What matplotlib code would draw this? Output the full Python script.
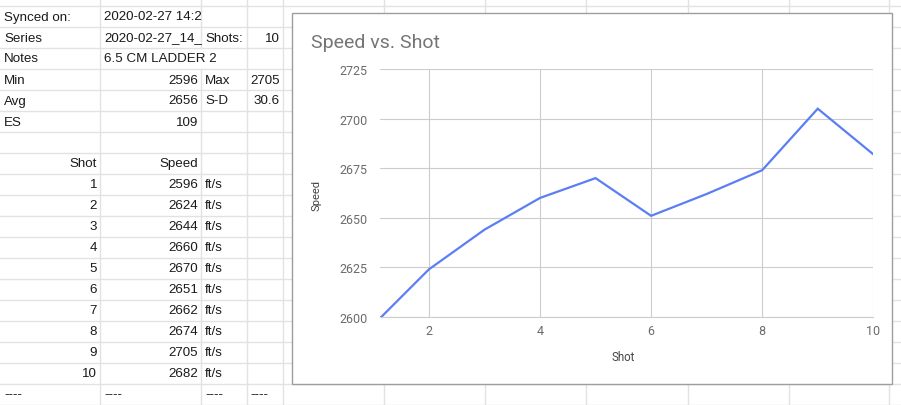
import matplotlib.pyplot as plt
from matplotlib.patches import Rectangle

# chart data
shots = [1, 2, 3, 4, 5, 6, 7, 8, 9, 10]
speeds = [2596, 2624, 2644, 2660, 2670, 2651, 2662, 2674, 2705, 2682]

# header block of the sheet (cut off at the cell edge, as in the sheet)
header_labels = ["Synced on:", "Series", "Notes", "Min", "Avg", "ES"]
header_values = ["2020-02-27 14:2", "2020-02-27_14_", "6.5 CM LADDER 2", "2596", "2656", "109"]
side_labels = ["", "Shots:", "", "Max", "S-D", ""]
side_values = ["", "10", "", "2705", "30.6", ""]

y_ticks = [2600, 2625, 2650, 2675, 2700, 2725]
x_ticks = [2, 4, 6, 8, 10]

W, H = 901, 406
fig = plt.figure(figsize=(W / 100, H / 100), dpi=100)

# sheet grid
sheet = fig.add_axes([0, 0, 1, 1])
sheet.set_xlim(0, W)
sheet.set_ylim(H, 0)
sheet.axis("off")

grid_col = "#e2e2e2"
col_edges = [100, 201, 246.5, 283, 384, 485, 586, 688, 789, 889]
row_top = 6.5
row_h = 21
row_edges = [row_top + row_h * k for k in range(20)]

for y in row_edges:
    sheet.plot([0, W], [y, y], color=grid_col, lw=1, zorder=1)
for x in col_edges:
    for k in range(-1, 19):
        # the notes text spills over the B|C border
        if k == 2 and x == 201:
            continue
        y0 = row_top + row_h * k
        sheet.plot([x, x], [max(y0, 0), min(y0 + row_h, H)], color=grid_col, lw=1, zorder=1)

font = dict(family=["Liberation Sans", "DejaVu Sans"], fontsize=9.6, color="#1a1a1a")


def row_y(k):
    return row_top + row_h * k + row_h / 2 + 0.5


numeric_rows = {3, 4, 5}
for k, (lab, val) in enumerate(zip(header_labels, header_values)):
    sheet.text(4, row_y(k), lab, ha="left", va="center", **font)
    if k in numeric_rows:
        sheet.text(198, row_y(k), val, ha="right", va="center", **font)
    else:
        sheet.text(104, row_y(k), val, ha="left", va="center", **font)
for k, (lab, val) in enumerate(zip(side_labels, side_values)):
    if lab:
        sheet.text(205, row_y(k), lab, ha="left", va="center", **font)
    if val:
        sheet.text(280, row_y(k), val, ha="right", va="center", **font)

sheet.text(97, row_y(7), "Shot", ha="right", va="center", **font)
sheet.text(198, row_y(7), "Speed", ha="right", va="center", **font)
for i, (s, v) in enumerate(zip(shots, speeds)):
    k = 8 + i
    sheet.text(97, row_y(k), str(s), ha="right", va="center", **font)
    sheet.text(198, row_y(k), str(v), ha="right", va="center", **font)
    sheet.text(205, row_y(k), "ft/s", ha="left", va="center", **font)
for x in [4, 104, 205, 250]:
    sheet.text(x, row_y(18), "----", ha="left", va="center", **font)

# chart card
sheet.add_patch(Rectangle((291.5, 13.5), 600.5, 371.5, facecolor="white",
                          edgecolor="#9e9e9e", lw=1, zorder=5))
sheet.text(311, 42.5, "Speed vs. Shot", ha="left", va="center", fontsize=14,
           family="Roboto", color="#757575", zorder=6)
sheet.text(316, 196, "Speed", rotation=90, ha="center", va="center", fontsize=8,
           family="Roboto", color="#444444", zorder=6)
sheet.text(623, 358, "Shot", ha="center", va="center", fontsize=8.3,
           family="Roboto", color="#444444", zorder=6)

px_l, px_r, px_t, px_b = 380, 873.3, 70, 318
ax = fig.add_axes([px_l / W, 1 - px_b / H, (px_r - px_l) / W, (px_b - px_t) / H])
ax.set_zorder(10)
ax.patch.set_alpha(0)

ax.plot(shots, speeds, color="#5b7ff3", lw=1.6, solid_joinstyle="miter", zorder=3)
ax.set_xlim(1.12, 10)
ax.set_ylim(2600, 2725)
ax.set_xticks(x_ticks)
ax.set_yticks(y_ticks)
ax.grid(True, color="#cccccc", lw=0.8)
ax.set_axisbelow(True)
for side in ["top", "right", "left"]:
    ax.spines[side].set_visible(False)
ax.spines["bottom"].set_color("#cccccc")
ax.spines["bottom"].set_linewidth(0.8)
ax.tick_params(length=0, labelsize=9, labelcolor="#6b6b6b")
ax.tick_params(axis="y", pad=9)
ax.tick_params(axis="x", pad=5)
for lab in ax.get_xticklabels() + ax.get_yticklabels():
    lab.set_family("Roboto")

fig.savefig("out.png", dpi=100)
